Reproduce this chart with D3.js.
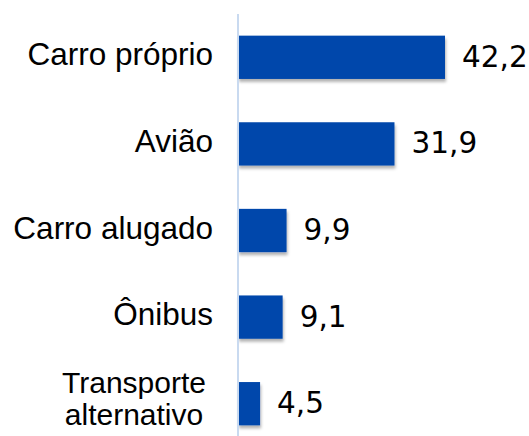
<!DOCTYPE html>
<html>
<head>
<meta charset="utf-8">
<script src="https://cdn.jsdelivr.net/npm/d3@7"></script>
<style>
  body { margin: 0; background: #fff; }
</style>
</head>
<body>
<div id="chart"></div>
<script>
// Datos
const categorias = ["Carro próprio", "Avião", "Carro alugado", "Ônibus", "Transporte alternativo"];
const valores = [42.2, 31.9, 9.9, 9.1, 4.5];
const etiquetas = ["42,2", "31,9", "9,9", "9,1", "4,5"];

const width = 529, height = 436;
const x0 = 238;

const svg = d3.select("#chart")
  .append("svg")
  .attr("width", width)
  .attr("height", height);

// sombra de las barras
const defs = svg.append("defs");
const f = defs.append("filter").attr("id", "sombra")
  .attr("x", "-10%").attr("y", "-10%").attr("width", "130%").attr("height", "140%");
f.append("feDropShadow")
  .attr("dx", 1).attr("dy", 3).attr("stdDeviation", 1.5)
  .attr("flood-color", "#000").attr("flood-opacity", 0.3);

const yScale = d3.scaleBand()
  .domain(categorias)
  .range([14, 447])
  .paddingInner(0.5)
  .paddingOuter(0.25);

const xScale = d3.scaleLinear()
  .domain([0, 42.2])
  .range([x0, 445]);

// Barras
svg.selectAll(".bar")
  .data(valores)
  .enter()
  .append("rect")
  .attr("class", "bar")
  .attr("x", x0)
  .attr("y", (d, i) => yScale(categorias[i]))
  .attr("width", d => xScale(d) - x0)
  .attr("height", yScale.bandwidth())
  .attr("fill", "#0047ab")
  .attr("filter", "url(#sombra)");

// Eje vertical
svg.append("line")
  .attr("x1", x0).attr("x2", x0)
  .attr("y1", 14).attr("y2", height)
  .attr("stroke", "#c9daf0")
  .attr("stroke-width", 2);

// Etiquetas de categorías (la última va en dos líneas, centrada)
categorias.forEach(d => {
  const c = yScale(d) + yScale.bandwidth() / 2;
  const lineas = d === "Transporte alternativo" ? ["Transporte", "alternativo"] : [d];
  const dos = lineas.length > 1;
  lineas.forEach((l, j) => {
    svg.append("text")
      .attr("class", "cat")
      .attr("text-anchor", dos ? "middle" : "end")
      .attr("x", dos ? 134 : 213)
      .attr("y", dos ? c - 10.5 + j * 32 : c + 8)
      .attr("font-family", "Liberation Sans, Arial, sans-serif")
      .attr("font-size", dos ? 30 : 31.5)
      .attr("fill", "#000")
      .text(l);
  });
});

// Etiquetas de valores
svg.selectAll(".val")
  .data(valores)
  .enter()
  .append("text")
  .attr("class", "val")
  .attr("x", d => xScale(d) + 17)
  .attr("y", (d, i) => yScale(categorias[i]) + yScale.bandwidth() / 2 + 9.5)
  .attr("font-family", "DejaVu Sans, Verdana, sans-serif")
  .attr("font-size", 29.5)
  .attr("fill", "#000")
  .text((d, i) => etiquetas[i]);
</script>
</body>
</html>
